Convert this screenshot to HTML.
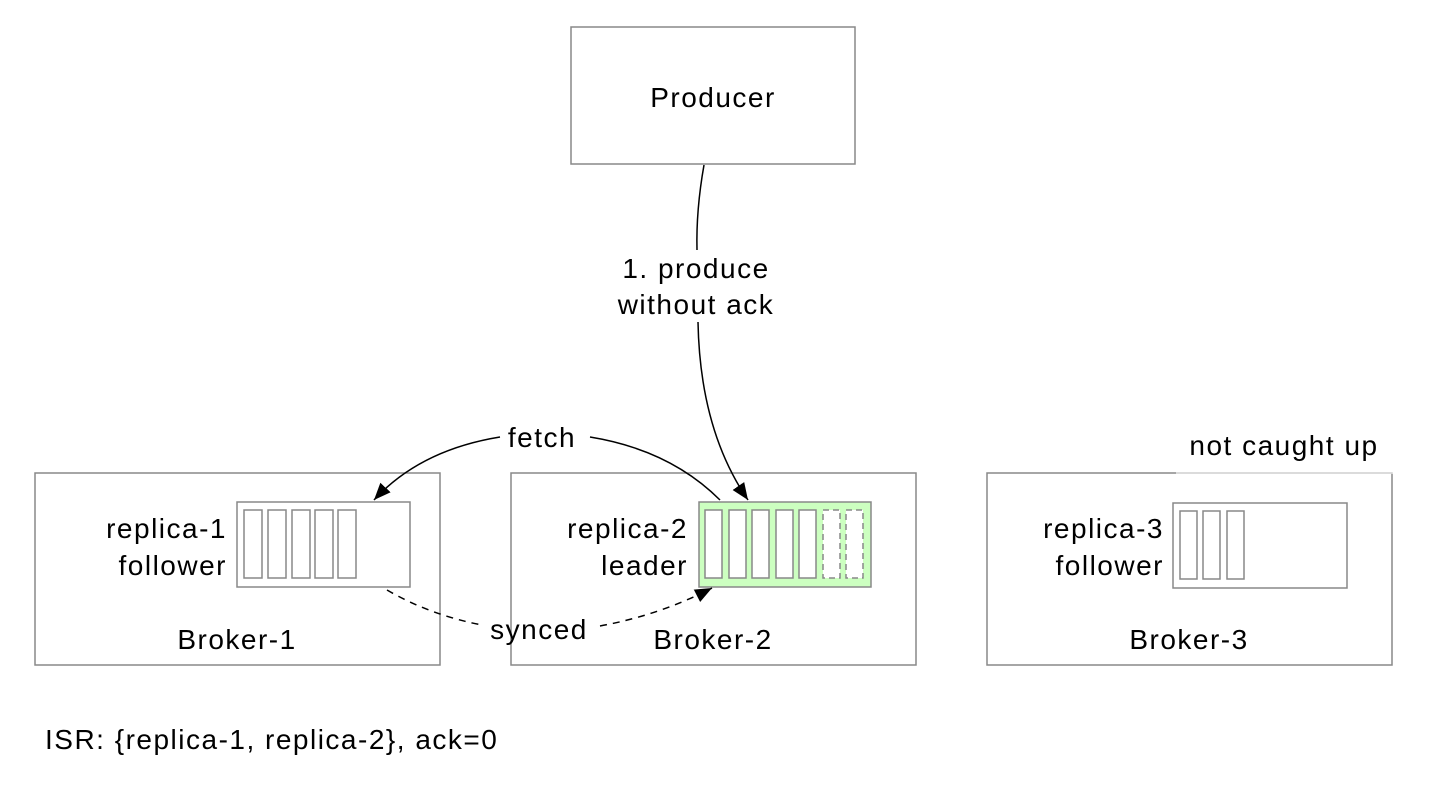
<!DOCTYPE html>
<html><head><style>
body{margin:0;background:#fff;width:1430px;height:792px;overflow:hidden}
svg text{font-family:"Liberation Sans",Arial,sans-serif;font-size:28px;letter-spacing:1.5px;fill:#000}
</style></head><body>
<svg width="1430" height="792" viewBox="0 0 1430 792">
<defs>
<marker id="b" markerWidth="18" markerHeight="18" refX="17" refY="9" orient="auto" markerUnits="userSpaceOnUse" viewBox="0 0 18 18"><path d="M0,2 L17,9 L0,16 z" fill="#000"/></marker></defs>
<g fill="none" stroke="#888" stroke-width="1.5">
<rect x="571" y="27" width="284" height="137"/>
<rect x="35" y="473" width="405" height="192"/>
<rect x="511" y="473" width="405" height="192"/>
<rect x="987" y="473" width="405" height="192"/>
<rect x="237" y="502" width="173" height="85"/>
<rect x="699" y="502" width="172" height="85" fill="#ccffc0"/>
<rect x="1173" y="503" width="174" height="85"/>
<rect x="244" y="510" width="18" height="68"/><rect x="268" y="510" width="18" height="68"/><rect x="292" y="510" width="18" height="68"/><rect x="315" y="510" width="18" height="68"/><rect x="338" y="510" width="18" height="68"/>
<rect x="705" y="510" width="17" height="68" fill="#fff"/><rect x="729" y="510" width="17" height="68" fill="#fff"/><rect x="752" y="510" width="17" height="68" fill="#fff"/><rect x="776" y="510" width="17" height="68" fill="#fff"/><rect x="799" y="510" width="17" height="68" fill="#fff"/>
<rect x="823" y="510" width="17" height="68" fill="#fff" stroke-dasharray="6,4"/><rect x="846" y="510" width="17" height="68" fill="#fff" stroke-dasharray="6,4"/>
<rect x="1180" y="511" width="17" height="68"/><rect x="1203" y="511" width="17" height="68"/><rect x="1227" y="511" width="17" height="68"/>
</g>
<rect x="1176" y="466" width="220" height="8" fill="#fff" opacity="0.6"/>
<g fill="none" stroke="#000" stroke-width="1.5">
<path d="M704,165 Q696,210 697,250"/>
<path d="M698,322 Q700,430 748,500" marker-end="url(#b)"/>
<path d="M590,437 Q670,450 720,500"/>
<path d="M500,437 Q420,450 374,500" marker-end="url(#b)"/>
<path d="M387,590 Q430,615 482,625" stroke-dasharray="7,6"/>
<path d="M600,626 Q660,615 712,588" stroke-dasharray="7,6" marker-end="url(#b)"/>
</g>
<text x="713" y="107" text-anchor="middle">Producer</text>
<text x="696" y="278" text-anchor="middle">1. produce</text>
<text x="696" y="314" text-anchor="middle">without ack</text>
<text x="542" y="447" text-anchor="middle">fetch</text>
<text x="539" y="639" text-anchor="middle">synced</text>
<text x="1284" y="455" text-anchor="middle">not caught up</text>
<text x="227" y="538" text-anchor="end">replica-1</text>
<text x="227" y="575" text-anchor="end">follower</text>
<text x="688" y="538" text-anchor="end">replica-2</text>
<text x="688" y="575" text-anchor="end">leader</text>
<text x="1164" y="538" text-anchor="end">replica-3</text>
<text x="1164" y="575" text-anchor="end">follower</text>
<text x="237" y="649" text-anchor="middle">Broker-1</text>
<text x="713" y="649" text-anchor="middle">Broker-2</text>
<text x="1189" y="649" text-anchor="middle">Broker-3</text>
<text x="45" y="749">ISR: {replica-1, replica-2}, ack=0</text>
</svg>
</body></html>
